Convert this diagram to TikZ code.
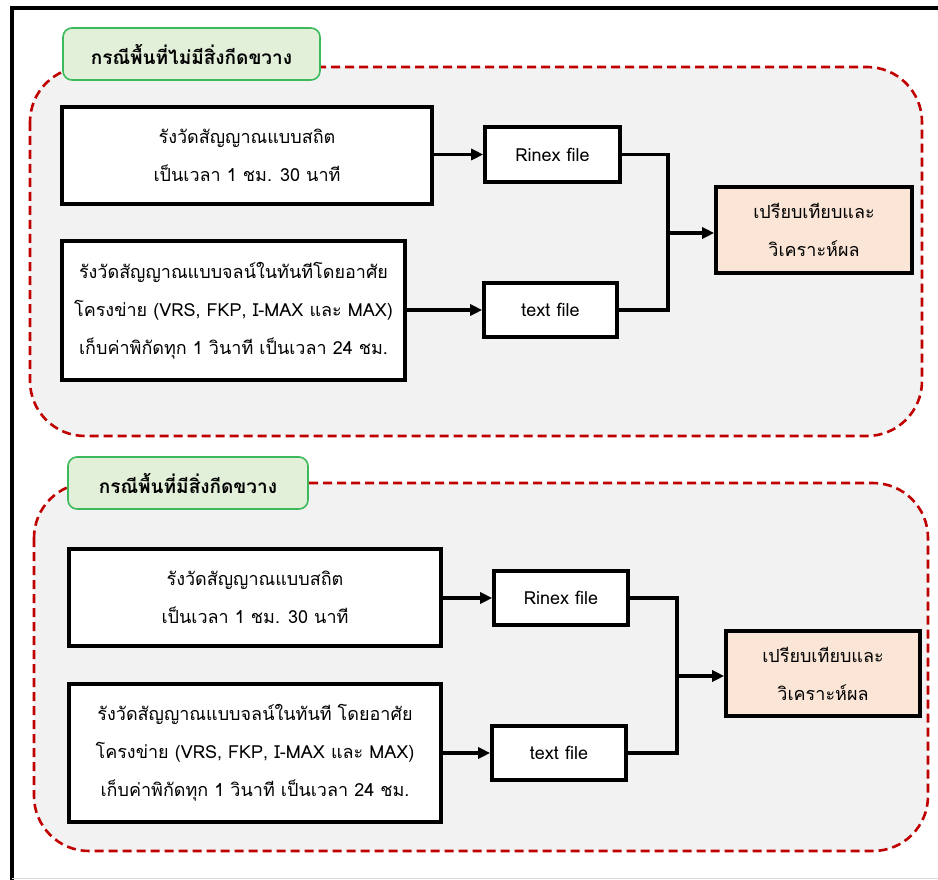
\documentclass[tikz,border=0pt]{standalone}
\usepackage{fontspec}
\newfontfamily\thaifont[Script=Thai]{Loma}
\usetikzlibrary{arrows.meta}
\definecolor{regionfill}{HTML}{F2F2F2}
\definecolor{dashred}{HTML}{C00000}
\definecolor{tabfill}{HTML}{E2F0D9}
\definecolor{tabline}{HTML}{3CB95A}
\definecolor{resfill}{HTML}{FBE5D6}
\tikzset{
  region/.style={draw=dashred, fill=regionfill, line width=2.6pt, dash pattern=on 9pt off 5pt, rounded corners=55pt},
  tabbox/.style={draw=tabline, fill=tabfill, line width=1.6pt, rounded corners=9pt, font=\thaifont\bfseries\fontsize{19}{24}\selectfont},
  stepbox/.style={draw=black, fill=white, line width=3.6pt, align=center, inner sep=0pt, font=\thaifont\fontsize{18}{38}\selectfont},
  filebox/.style={stepbox},
  resbox/.style={stepbox, fill=resfill},
  wire/.style={line width=3.4pt},
  wirearrow/.style={line width=3.4pt, -{Triangle[length=12pt,width=11pt]}},
}
\begin{document}
\begin{tikzpicture}[x=1pt,y=-1pt]
\useasboundingbox (0,0) rectangle (938,880);
% outer frame
\draw[line width=3.5pt] (938,8) -- (12,8) -- (12,880);
\draw[line width=1pt, black!15] (12,878) -- (938,878);
% ---------- top region ----------
\path[region] (30,67) rectangle (922,436);
\node[tabbox, minimum width=257pt, minimum height=52pt] (tab1) at (191.5,54) {กรณีพื้นที่ไม่มีสิ่งกีดขวาง};
\node[stepbox, minimum width=370pt, minimum height=97pt] (a1) at (247,155.5)
  {รังวัดสัญญาณแบบสถิต\\เป็นเวลา 1 ชม. 30 นาที};
\node[stepbox, minimum width=343pt, minimum height=139pt] (a2) at (233.5,310.5)
  {รังวัดสัญญาณแบบจลน์ในทันทีโดยอาศัย\\โครงข่าย (VRS, FKP, I-MAX และ MAX)\\เก็บค่าพิกัดทุก 1 วินาที เป็นเวลา 24 ชม.};
\node[filebox, minimum width=135pt, minimum height=55pt] (r1) at (552.5,154.5) {Rinex file};
\node[filebox, minimum width=133pt, minimum height=54pt] (t1) at (550.5,310) {text file};
\node[resbox, minimum width=196pt, minimum height=86pt] (res1) at (814,230)
  {เปรียบเทียบและ\\วิเคราะห์ผล};
\coordinate (j1) at (668,233);
\draw[wirearrow] (a1.east |- r1.west) -- (r1.west);
\draw[wirearrow] (a2.east |- t1.west) -- (t1.west);
\draw[wire] (r1.east) -- (r1.east -| j1) -- (t1.east -| j1) -- (t1.east);
\draw[wirearrow] (j1) -- (j1 -| res1.west);
% ---------- bottom region ----------
\path[region] (34,483) rectangle (928,851);
\node[tabbox, minimum width=240pt, minimum height=52pt] (tab2) at (188,483) {กรณีพื้นที่มีสิ่งกีดขวาง};
\node[stepbox, minimum width=372pt, minimum height=97pt] (b1) at (255,597.5)
  {รังวัดสัญญาณแบบสถิต\\เป็นเวลา 1 ชม. 30 นาที};
\node[stepbox, minimum width=372pt, minimum height=138pt] (b2) at (255,753)
  {รังวัดสัญญาณแบบจลน์ในทันที โดยอาศัย\\โครงข่าย (VRS, FKP, I-MAX และ MAX)\\เก็บค่าพิกัดทุก 1 วินาที เป็นเวลา 24 ชม.};
\node[filebox, minimum width=134pt, minimum height=54pt] (r2) at (561,598) {Rinex file};
\node[filebox, minimum width=134pt, minimum height=54pt] (t2) at (559,753) {text file};
\node[resbox, minimum width=194pt, minimum height=85pt] (res2) at (823,673.5)
  {เปรียบเทียบและ\\วิเคราะห์ผล};
\coordinate (j2) at (677,676);
\draw[wirearrow] (b1.east |- r2.west) -- (r2.west);
\draw[wirearrow] (b2.east |- t2.west) -- (t2.west);
\draw[wire] (r2.east) -- (r2.east -| j2) -- (t2.east -| j2) -- (t2.east);
\draw[wirearrow] (j2) -- (j2 -| res2.west);
\end{tikzpicture}
\end{document}
